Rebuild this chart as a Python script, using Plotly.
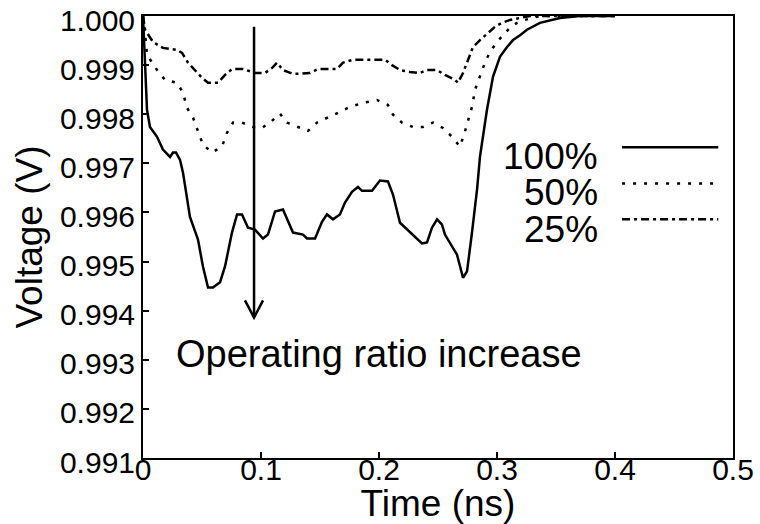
import plotly.graph_objects as go

# Supply-voltage waveforms for three operating ratios
t_100 = [0, 0.0017, 0.0034, 0.0059, 0.0119, 0.0169, 0.0229, 0.0254, 0.028, 0.0314,
         0.0339, 0.0398, 0.0466, 0.0508, 0.0551, 0.0593, 0.0653, 0.0695, 0.0754, 0.0797,
         0.0839, 0.089, 0.0949, 0.1017, 0.1059, 0.1119, 0.1186, 0.1271, 0.1356, 0.139,
         0.1458, 0.1517, 0.1559, 0.161, 0.1669, 0.1712, 0.1771, 0.1822, 0.1856, 0.1941,
         0.2008, 0.2076, 0.2119, 0.2178, 0.2237, 0.2288, 0.2364, 0.2407, 0.2449, 0.2492,
         0.2534, 0.2559, 0.2619, 0.2661, 0.2712, 0.2746, 0.2788, 0.2831, 0.2856, 0.2915,
         0.2966, 0.3025, 0.3085, 0.3136, 0.3195, 0.3254, 0.3364, 0.3534, 0.37, 0.4]
v_100 = [1.00000, 0.99919, 0.99809, 0.99774, 0.99754, 0.99728, 0.99713, 0.99722, 0.99722, 0.99707,
         0.99681, 0.99591, 0.99545, 0.99490, 0.99447, 0.99447, 0.99458, 0.99490, 0.99559, 0.99596,
         0.99596, 0.99569, 0.99565, 0.99547, 0.99555, 0.99602, 0.99606, 0.99559, 0.99555, 0.99547,
         0.99547, 0.99581, 0.99596, 0.99586, 0.99596, 0.99620, 0.99642, 0.99652, 0.99644, 0.99644,
         0.99665, 0.99663, 0.99636, 0.99579, 0.99565, 0.99555, 0.99537, 0.99539, 0.99569, 0.99586,
         0.99575, 0.99555, 0.99531, 0.99514, 0.99467, 0.99480, 0.99559, 0.99647, 0.99714, 0.99809,
         0.99876, 0.99917, 0.99937, 0.99951, 0.99961, 0.99972, 0.99986, 0.99996, 1.00000, 1.00000]

t_50 = [0, 0.0017, 0.0034, 0.0119, 0.0186, 0.0288, 0.0339, 0.0373, 0.0424, 0.0466,
        0.0508, 0.0585, 0.0669, 0.0712, 0.0763, 0.0839, 0.0932, 0.1008, 0.1085, 0.1161,
        0.122, 0.1314, 0.1398, 0.1475, 0.1568, 0.1653, 0.1754, 0.1864, 0.1983, 0.2076,
        0.2119, 0.2195, 0.2288, 0.2373, 0.2458, 0.2542, 0.2619, 0.2686, 0.272, 0.2754,
        0.2788, 0.2814, 0.2856, 0.2898, 0.2941, 0.3, 0.3051, 0.311, 0.3169, 0.3237,
        0.3364, 0.4]
v_50 = [1.00000, 0.99967, 0.99921, 0.99890, 0.99870, 0.99864, 0.99844, 0.99813, 0.99793, 0.99764,
        0.99738, 0.99722, 0.99734, 0.99762, 0.99783, 0.99783, 0.99774, 0.99772, 0.99785, 0.99801,
        0.99783, 0.99774, 0.99766, 0.99783, 0.99793, 0.99803, 0.99815, 0.99823, 0.99829, 0.99819,
        0.99799, 0.99783, 0.99774, 0.99774, 0.99783, 0.99772, 0.99754, 0.99734, 0.99758, 0.99789,
        0.99815, 0.99850, 0.99876, 0.99905, 0.99927, 0.99947, 0.99961, 0.99976, 0.99986, 0.99992,
        1.00000, 1.00000]

t_25 = [0, 0.0017, 0.0085, 0.0169, 0.0288, 0.0331, 0.0381, 0.0441, 0.05, 0.0551,
        0.0636, 0.0695, 0.0754, 0.0847, 0.0949, 0.1034, 0.1093, 0.1136, 0.1186, 0.1271,
        0.1415, 0.1483, 0.1644, 0.1695, 0.178, 0.2051, 0.211, 0.2178, 0.2263, 0.2347,
        0.2407, 0.2492, 0.2559, 0.2644, 0.2669, 0.2712, 0.2754, 0.2797, 0.2856, 0.2924,
        0.2983, 0.3042, 0.311, 0.3195, 0.328, 0.4]
v_25 = [1.00000, 0.99972, 0.99947, 0.99935, 0.99931, 0.99925, 0.99905, 0.99890, 0.99874, 0.99864,
        0.99864, 0.99880, 0.99892, 0.99892, 0.99884, 0.99884, 0.99894, 0.99905, 0.99890, 0.99882,
        0.99884, 0.99892, 0.99892, 0.99905, 0.99911, 0.99911, 0.99900, 0.99890, 0.99886, 0.99884,
        0.99890, 0.99890, 0.99880, 0.99870, 0.99864, 0.99884, 0.99911, 0.99937, 0.99951, 0.99965,
        0.99978, 0.99986, 0.99992, 0.99996, 1.00000, 1.00000]

series_names = ["100%", "50%", "25%"]
series_dash = ["solid", "3px,8px", "8px,4px,3px,4px"]

x_ticks = [0, 0.1, 0.2, 0.3, 0.4, 0.5]
x_tick_text = ["0", "0.1", "0.2", "0.3", "0.4", "0.5"]
y_ticks = [0.991, 0.992, 0.993, 0.994, 0.995, 0.996, 0.997, 0.998, 0.999, 1.000]
y_tick_text = ["0.991", "0.992", "0.993", "0.994", "0.995", "0.996", "0.997", "0.998", "0.999", "1.000"]

FONT = "Liberation Sans, Arial, Helvetica, sans-serif"

fig = go.Figure()
for (tx, vy), name, dash in zip([(t_100, v_100), (t_50, v_50), (t_25, v_25)],
                                series_names, series_dash):
    fig.add_trace(go.Scatter(x=tx, y=vy, mode="lines", name=name, showlegend=False,
                             line=dict(color="black", width=2.5, dash=dash)))

# Hand-drawn legend: right-aligned label followed by a line sample
legend_line_y = [0.703, 0.621, 0.540]
legend_text_y = [0.683, 0.600, 0.516]
for name, dash, ly, ty in zip(series_names, series_dash, legend_line_y, legend_text_y):
    fig.add_shape(type="line", xref="paper", yref="paper", x0=0.812, x1=0.975, y0=ly, y1=ly,
                  line=dict(color="black", width=2.5, dash=dash))
    fig.add_annotation(xref="paper", yref="paper", x=0.7746, y=ty, text=name, showarrow=False,
                       xanchor="right", yanchor="middle", font=dict(family=FONT, size=37, color="black"))

# Arrow showing the trend as the operating ratio grows
fig.add_shape(type="line", xref="x", yref="y", x0=0.0941, x1=0.0941, y0=0.99978, y1=0.99388,
              line=dict(color="black", width=2.5))
fig.add_shape(type="path", xref="x", yref="y",
              path="M 0.0864 0.99421 L 0.0941 0.99386 L 0.1017 0.99421",
              line=dict(color="black", width=2.5))
fig.add_annotation(x=0.2, y=0.99311, xref="x", yref="y", text="Operating ratio increase",
                   showarrow=False, font=dict(family=FONT, size=38, color="black"))

fig.update_layout(
    template="none",
    width=760, height=524,
    margin=dict(l=143, r=27, t=16, b=66),
    paper_bgcolor="white", plot_bgcolor="white",
    font=dict(family=FONT, color="black"),
    xaxis=dict(range=[0, 0.5], tickvals=x_ticks, ticktext=x_tick_text, automargin=False,
               ticks="inside", ticklen=6, tickwidth=1.5, tickcolor="black",
               showline=True, linecolor="black", linewidth=2, mirror=True,
               showgrid=False, zeroline=False, ticklabelstandoff=-16,
               tickfont=dict(family=FONT, size=30, color="black"),
               title=dict(text="Time (ns)", font=dict(family=FONT, size=37, color="black"), standoff=0)),
    yaxis=dict(range=[0.991, 1.000], tickvals=y_ticks, ticktext=y_tick_text, automargin=False,
               ticks="inside", ticklen=6, tickwidth=1.5, tickcolor="black",
               showline=True, linecolor="black", linewidth=2, mirror=True,
               showgrid=False, zeroline=False,
               ticklabeloverflow="allow", ticklabelshift=4,
               tickfont=dict(family=FONT, size=30, color="black"),
               title=dict(text="Voltage (V)", font=dict(family=FONT, size=37, color="black"), standoff=6)),
)

fig.write_html("out.html")
